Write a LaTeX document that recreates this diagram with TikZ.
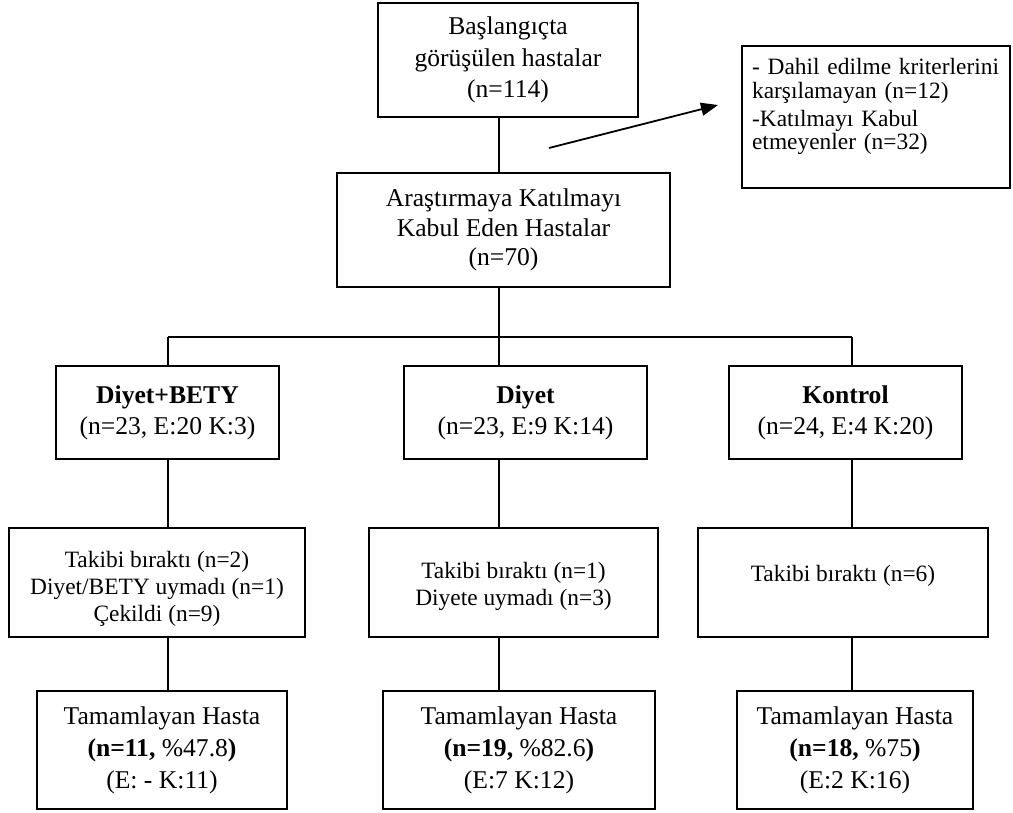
\documentclass[tikz,border=0pt]{standalone}
\usepackage{fontspec}
\setmainfont{Liberation Serif}
\usetikzlibrary{arrows.meta}

\newcommand\txtmain{\fontsize{12.8}{15.6}\selectfont}
\newcommand\txtsmall{\fontsize{11.7}{13.5}\selectfont}

\begin{document}
\begin{tikzpicture}[x=0.5pt,y=-0.5pt,
    box/.style={draw,line width=1.1pt,align=center,inner sep=0pt,font=\txtmain},
    lbox/.style={box,font=\txtsmall},
    link/.style={line width=0.9pt}]
  \useasboundingbox (0,0) rectangle (1013,813);
  % top part
  \node[box,minimum width=130pt,minimum height=57pt,
        font={\fontsize{12.8}{15.9}\selectfont}] (start) at (508,60)
    {Başlangıçta\\görüşülen hastalar\\(n=114)};
  \node[lbox,anchor=north west,align=left,text width=124pt,inner xsep=5pt,
        minimum height=71pt,font={\fontsize{11.7}{11.7}\selectfont}] (excl) at (741,45)
    {- Dahil edilme kriterlerini\\karşılamayan (n=12)\\[2.5pt]-Katılmayı Kabul\\etmeyenler (n=32)\rule[-13pt]{0pt}{1pt}};
  \node[box,minimum width=166.5pt,minimum height=57pt,
        font={\fontsize{12.8}{14.75}\selectfont}] (mid) at (503.5,230)
    {Araştırmaya Katılmayı\\Kabul Eden Hastalar\\(n=70)};
  \coordinate (arrs) at (549,148);
  \coordinate (arre) at (718,105);
  \draw[link,-{Triangle[length=8.5pt,width=6.5pt]}] (arrs) -- (arre);

  % groups
  \node[box,minimum width=111.5pt,minimum height=46.5pt] (b1) at (167.5,412.5)
    {\textbf{Diyet+BETY}\\(n=23, E:20 K:3)};
  \node[box,minimum width=121.5pt,minimum height=46.5pt] (b2) at (525.5,412.5)
    {\textbf{Diyet}\\(n=23, E:9 K:14)};
  \node[box,minimum width=116.5pt,minimum height=46.5pt] (b3) at (845.5,412.5)
    {\textbf{Kontrol}\\(n=24, E:4 K:20)};

  \node[lbox,minimum width=148pt,minimum height=54.5pt] (r2a) at (157,582.5)
    {\rule{0pt}{14pt}Takibi bıraktı (n=2)\\Diyet/BETY uymadı (n=1)\\Çekildi (n=9)};
  \node[lbox,minimum width=144.5pt,minimum height=54.5pt] (r2b) at (513.5,582.5)
    {\rule{0pt}{12pt}Takibi bıraktı (n=1)\\Diyete uymadı (n=3)};
  \node[lbox,minimum width=145pt,minimum height=54.5pt] (r2c) at (843,582.5)
    {\rule{0pt}{12pt}Takibi bıraktı (n=6)\\\mbox{}};

  \node[box,minimum width=125pt,minimum height=59pt,
        font={\fontsize{12.8}{16}\selectfont}] (r3a) at (162,750)
    {Tamamlayan Hasta\\\textbf{(n=11,} \%47.8\textbf{)}\\(E: - K:11)};
  \node[box,minimum width=136pt,minimum height=59pt,
        font={\fontsize{12.8}{16}\selectfont}] (r3b) at (519,750)
    {Tamamlayan Hasta\\\textbf{(n=19,} \%82.6\textbf{)}\\(E:7 K:12)};
  \node[box,minimum width=118pt,minimum height=59pt,
        font={\fontsize{12.8}{16}\selectfont}] (r3c) at (855,750)
    {Tamamlayan Hasta\\\textbf{(n=18,} \%75\textbf{)}\\(E:2 K:16)};

  % connectors
  \coordinate (busa) at (168,337);
  \coordinate (busb) at (499,337);
  \coordinate (busc) at (852,337);
  \draw[link] (start.south -| busb) -- (mid.north -| busb);
  \draw[link] (mid.south -| busb) -- (b2.north -| busb);
  \draw[link] (busa) -- (busc);
  \draw[link] (busa) -- (b1.north -| busa);
  \draw[link] (busc) -- (b3.north -| busc);
  \draw[link] (b1.south -| busa) -- (r2a.north -| busa);
  \draw[link] (b2.south -| busb) -- (r2b.north -| busb);
  \draw[link] (b3.south -| busc) -- (r2c.north -| busc);
  \draw[link] (r2a.south -| busa) -- (r3a.north -| busa);
  \draw[link] (r2b.south -| busb) -- (r3b.north -| busb);
  \draw[link] (r2c.south -| busc) -- (r3c.north -| busc);
\end{tikzpicture}
\end{document}
